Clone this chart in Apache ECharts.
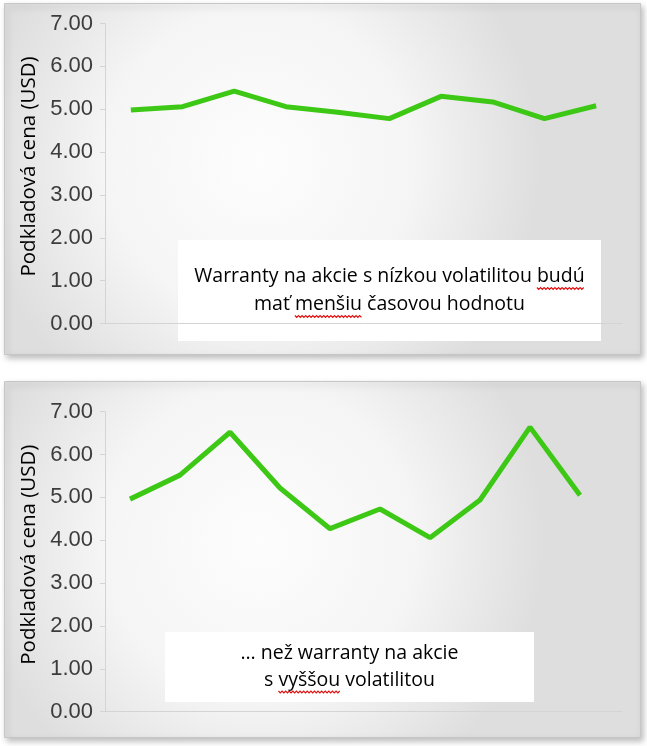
<!DOCTYPE html>
<html>
<head>
<meta charset="utf-8">
<script src="https://cdn.jsdelivr.net/npm/echarts@6/dist/echarts.min.js"></script>
<style>
html,body{margin:0;padding:0;background:#fff;}
#c{width:647px;height:746px;}
</style>
</head>
<body>
<div id="c"></div>
<script>
// ---- data ----
var positions = [1,2,3,4,5,6,7,8,9,10];
var lowVolPrices = [4.98, 5.06, 5.42, 5.06, 4.93, 4.78, 5.30, 5.17, 4.78, 5.08];
var highVolPrices = [4.96, 5.52, 6.52, 5.22, 4.27, 4.73, 4.06, 4.94, 6.64, 5.05];
var yTicks = [0, 1, 2, 3, 4, 5, 6, 7];
var axisTitle = 'Podkladová cena (USD)';
var topNote = ['Warranty na akcie s nízkou volatilitou budú', 'mať menšiu časovou hodnotu'];
var topMarked = ['budú', 'menšiu'];
var bottomNote = ['… než warranty na akcie', 's vyššou volatilitou'];
var bottomMarked = ['vyššou'];

var NOTE_FONT = '19.5px "Open Sans"';

function pairs(vals){ return vals.map(function(v,i){ return [i, v]; }); }

var chart = echarts.init(document.getElementById('c'), null, {renderer:'canvas'});
var mctx = document.createElement('canvas').getContext('2d');

function yAxisCfg(gi){
  return {
    gridIndex: gi, type:'value', min: yTicks[0], max: yTicks[yTicks.length-1], interval: 1,
    name: axisTitle, nameLocation:'middle', nameGap: 62,
    nameTextStyle:{fontFamily:'Open Sans', fontSize:20.5, color:'#000', padding:[0,0,0,14]},
    axisLine:{show:true, onZero:false, lineStyle:{color:'#d4d4d4', width:1}},
    axisTick:{show:true, length:5, lineStyle:{color:'#d4d4d4'}},
    axisLabel:{margin:12, fontFamily:'Liberation Sans', fontSize:22, color:'#3c3c3c',
      formatter:function(v){ return v.toFixed(2); }},
    splitLine:{show:false}
  };
}
function xAxisCfg(gi, maxV){
  return {
    gridIndex: gi, type:'value', min:-0.5, max:maxV,
    axisLine:{show:true, onZero:false, lineStyle:{color:'#d4d4d4', width:1}},
    axisTick:{show:false}, axisLabel:{show:false}, splitLine:{show:false}
  };
}
var panelFill = {
  type:'radial', x:0.4, y:0.45, r:0.8,
  colorStops:[{offset:0,color:'#fdfdfd'},{offset:0.55,color:'#f5f5f5'},{offset:1,color:'#dedede'}]
};
function squiggle(x0, x1, y){
  var pts = [], k = 0;
  for (var x = x0; x <= x1; x += 1.8) { pts.push([x, y + (k % 2 ? 1.8 : 0)]); k++; }
  return {type:'polyline', shape:{points:pts}, style:{stroke:'#e01010', lineWidth:1.2, fill:null}};
}
function noteGroup(x, y, w, h, lines, lineGap, marked){
  mctx.font = NOTE_FONT;
  var children = [
    {type:'rect', shape:{x:0,y:0,width:w,height:h}, style:{fill:'#fff'}},
    {type:'text', x:w/2, y:h/2, style:{
      text: lines.join('\n'), fill:'#000', font: NOTE_FONT,
      align:'center', verticalAlign:'middle', lineHeight: lineGap
    }}
  ];
  var top0 = h/2 - lineGap*lines.length/2;
  lines.forEach(function(line, li){
    var lw = mctx.measureText(line).width;
    var lx = w/2 - lw/2;
    marked.forEach(function(word){
      var idx = line.indexOf(word);
      if (idx < 0) return;
      var pre = mctx.measureText(line.slice(0, idx)).width;
      var ww = mctx.measureText(word).width;
      var uy = top0 + lineGap*(li+1) - 3;
      children.push(squiggle(lx + pre, lx + pre + ww, uy));
    });
  });
  return {type:'group', left:x, top:y, z:20, children:children};
}

chart.setOption({
  animation:false,
  backgroundColor:'#fff',
  grid:[
    {left:105, right:25, top:23.5, height:300},
    {left:105, right:25, top:411.7, height:300}
  ],
  xAxis:[ xAxisCfg(0, 9.5), xAxisCfg(1, 9.84) ],
  yAxis:[ yAxisCfg(0), yAxisCfg(1) ],
  series:[
    {type:'line', xAxisIndex:0, yAxisIndex:0, data: pairs(lowVolPrices), symbol:'none',
      lineStyle:{color:'#3cc814', width:5}, z:5},
    {type:'line', xAxisIndex:1, yAxisIndex:1, data: pairs(highVolPrices), symbol:'none',
      lineStyle:{color:'#3cc814', width:5}, z:5}
  ],
  graphic:[
    {type:'rect', z:-10, shape:{x:4.5,y:3.5,width:636,height:351},
      style:{fill:panelFill, stroke:'#c6c6c6', lineWidth:1, shadowBlur:6, shadowOffsetX:2, shadowOffsetY:3, shadowColor:'rgba(0,0,0,0.25)'}},
    {type:'rect', z:-10, shape:{x:4.5,y:381.5,width:636,height:356},
      style:{fill:panelFill, stroke:'#c6c6c6', lineWidth:1, shadowBlur:6, shadowOffsetX:2, shadowOffsetY:3, shadowColor:'rgba(0,0,0,0.25)'}},
    noteGroup(178, 240, 423, 101, topNote, 28, topMarked),
    noteGroup(165, 632, 369, 70, bottomNote, 27, bottomMarked)
  ]
});
</script>
</body>
</html>
